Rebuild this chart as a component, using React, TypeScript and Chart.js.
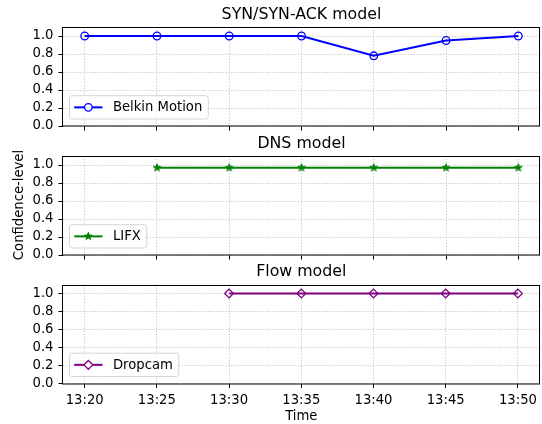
import React, { useEffect, useRef } from 'react';
import { Chart, registerables } from 'chart.js';

Chart.register(...registerables);

// ---- data ----
const minutes = [0, 5, 10, 15, 20, 25, 30];
const timeLabels = ['13:20', '13:25', '13:30', '13:35', '13:40', '13:45', '13:50'];
const yTicks = [0, 0.2, 0.4, 0.6, 0.8, 1.0];
const belkinMotion: (number | null)[] = [1.0, 1.0, 1.0, 1.0, 0.78, 0.95, 1.0];
const lifx: (number | null)[] = [null, 0.97, 0.97, 0.97, 0.97, 0.97, 0.97];
const dropcam: (number | null)[] = [null, null, 1.0, 1.0, 1.0, 1.0, 1.0];
const panelTitles = ['SYN/SYN-ACK model', 'DNS model', 'Flow model'];
const seriesNames = ['Belkin Motion', 'LIFX', 'Dropcam'];
const xTitle = 'Time';
const yTitle = 'Confidence-level';

// ---- layout / style ----
const W = 542;
const H = 424;
const FONT = 'DejaVu Sans';
const PLOT_LEFT = 63;
const PLOT_RIGHT = 540;

type Marker = 'circle' | 'star' | 'diamond';

const panels = [
  { top: 27, bottom: 126, values: belkinMotion, color: '#0000ff', marker: 'circle' as Marker, labels: false },
  { top: 156, bottom: 255, values: lifx, color: '#008000', marker: 'star' as Marker, labels: false },
  { top: 284.5, bottom: 383.5, values: dropcam, color: '#800080', marker: 'diamond' as Marker, labels: true },
];

function drawStar(ctx: CanvasRenderingContext2D, cx: number, cy: number, r: number, color: string) {
  const ri = r * 0.381966;
  ctx.save();
  ctx.beginPath();
  for (let k = 0; k < 10; k++) {
    const rr = k % 2 === 0 ? r : ri;
    const a = -Math.PI / 2 + (k * Math.PI) / 5;
    const px = cx + rr * Math.cos(a);
    const py = cy + rr * Math.sin(a);
    if (k === 0) ctx.moveTo(px, py);
    else ctx.lineTo(px, py);
  }
  ctx.closePath();
  ctx.fillStyle = color;
  ctx.fill();
  ctx.strokeStyle = color;
  ctx.lineWidth = 1;
  ctx.stroke();
  ctx.restore();
}

function drawMarker(ctx: CanvasRenderingContext2D, kind: Marker, x: number, y: number, color: string) {
  ctx.save();
  ctx.strokeStyle = color;
  ctx.lineWidth = 1.3;
  ctx.setLineDash([]);
  if (kind === 'circle') {
    ctx.beginPath();
    ctx.arc(x, y, 3.8, 0, Math.PI * 2);
    ctx.fillStyle = '#ffffff';
    ctx.fill();
    ctx.stroke();
  } else if (kind === 'diamond') {
    const r = 4.4;
    ctx.beginPath();
    ctx.moveTo(x, y - r);
    ctx.lineTo(x + r, y);
    ctx.lineTo(x, y + r);
    ctx.lineTo(x - r, y);
    ctx.closePath();
    ctx.fillStyle = '#ffffff';
    ctx.fill();
    ctx.stroke();
  } else {
    drawStar(ctx, x, y, 4, color);
  }
  ctx.restore();
}

function roundRectPath(ctx: CanvasRenderingContext2D, x: number, y: number, w: number, h: number, r: number) {
  ctx.beginPath();
  ctx.moveTo(x + r, y);
  ctx.lineTo(x + w - r, y);
  ctx.arcTo(x + w, y, x + w, y + r, r);
  ctx.lineTo(x + w, y + h - r);
  ctx.arcTo(x + w, y + h, x + w - r, y + h, r);
  ctx.lineTo(x + r, y + h);
  ctx.arcTo(x, y + h, x, y + h - r, r);
  ctx.lineTo(x, y + r);
  ctx.arcTo(x, y, x + r, y, r);
  ctx.closePath();
}

export default function App() {
  const refs = useRef<(HTMLCanvasElement | null)[]>([]);

  useEffect(() => {
    Chart.defaults.font.family = FONT;
    Chart.defaults.font.size = 13.2;
    Chart.defaults.color = '#000000';

    const starCanvas = document.createElement('canvas');
    starCanvas.width = 12;
    starCanvas.height = 12;
    const sctx = starCanvas.getContext('2d');
    if (sctx) drawStar(sctx, 6, 6, 4, panels[1].color);

    const charts: Chart[] = [];
    panels.forEach((p, i) => {
      const canvas = refs.current[i];
      if (!canvas) return;
      const xh = p.labels ? 25 : 5;
      const gridOpts = {
        color: '#b0b0b0',
        lineWidth: 0.8,
        tickColor: '#000000',
        tickLength: 4.5,
        tickWidth: 1,
        tickBorderDash: [],
        borderDash: [1.1, 1.8],
      };
      const borderOpts = { display: false, dash: [1.1, 1.8] };

      const pointStyle: any =
        p.marker === 'circle' ? 'circle' : p.marker === 'diamond' ? 'rectRot' : starCanvas;

      const deco = {
        id: 'deco' + i,
        afterDatasetsDraw(chart: any) {
          const ctx: CanvasRenderingContext2D = chart.ctx;
          const a = chart.chartArea;
          ctx.save();
          ctx.strokeStyle = '#000000';
          ctx.lineWidth = 1;
          ctx.setLineDash([]);
          ctx.strokeRect(Math.round(a.left) - 0.5, Math.round(a.top) + 0.5, Math.round(a.right - a.left) + 0, Math.round(a.bottom - a.top) - 0.5);
          ctx.restore();
        },
        afterDraw(chart: any) {
          const ctx: CanvasRenderingContext2D = chart.ctx;
          const a = chart.chartArea;
          ctx.save();
          // panel title
          ctx.fillStyle = '#000000';
          ctx.font = `15.8px "${FONT}"`;
          ctx.textAlign = 'center';
          ctx.textBaseline = 'alphabetic';
          ctx.fillText(panelTitles[i], (a.left + a.right) / 2, a.top - 8.3);

          // legend
          ctx.font = `13.2px "${FONT}"`;
          const name = seriesNames[i];
          const tw = ctx.measureText(name).width;
          const bh = 23.3;
          const bx = a.left + 6.5;
          const by = a.bottom - 7 - bh;
          const bw = tw + 49.4;
          roundRectPath(ctx, bx, by, bw, bh, 2.6);
          ctx.fillStyle = 'rgba(255,255,255,0.8)';
          ctx.fill();
          ctx.strokeStyle = 'rgba(204,204,204,0.8)';
          ctx.lineWidth = 1;
          ctx.stroke();
          const cy = by + bh / 2;
          ctx.beginPath();
          ctx.moveTo(bx + 4.7, cy);
          ctx.lineTo(bx + 33, cy);
          ctx.strokeStyle = p.color;
          ctx.lineWidth = 2;
          ctx.stroke();
          drawMarker(ctx, p.marker, bx + 18.85, cy, p.color);
          ctx.fillStyle = '#000000';
          ctx.textAlign = 'left';
          ctx.textBaseline = 'alphabetic';
          ctx.fillText(name, bx + 43.4, cy + 3.7);

          // axis titles
          if (i === 1) {
            ctx.save();
            ctx.translate(23, 205);
            ctx.rotate(-Math.PI / 2);
            ctx.textAlign = 'center';
            ctx.textBaseline = 'alphabetic';
            ctx.fillText(yTitle, 0, 0);
            ctx.restore();
          }
          if (i === 2) {
            ctx.textAlign = 'center';
            ctx.textBaseline = 'alphabetic';
            ctx.fillText(xTitle, (a.left + a.right) / 2, 420);
          }
          ctx.restore();
        },
      };

      const chart = new Chart(canvas, {
        type: 'line',
        data: {
          datasets: [
            {
              label: seriesNames[i],
              data: minutes.map((m, j) => ({ x: m, y: p.values[j] })) as any,
              borderColor: p.color,
              backgroundColor: p.color,
              borderWidth: 2,
              tension: 0,
              fill: false,
              pointStyle,
              pointRadius: p.marker === 'circle' ? 3.8 : p.marker === 'diamond' ? 4.4 : 4,
              pointBorderWidth: 1.3,
              pointBorderColor: p.color,
              pointBackgroundColor: p.marker === 'star' ? p.color : 'rgba(255,255,255,0)',
              pointHoverRadius: 0,
            },
          ],
        },
        options: {
          responsive: false,
          animation: false,
          events: [],
          layout: {
            autoPadding: false,
            padding: { left: 0, right: W - PLOT_RIGHT, top: p.top, bottom: H - p.bottom - xh },
          },
          scales: {
            x: {
              type: 'linear',
              min: -1.5,
              max: 31.5,
              afterFit: (s: any) => {
                s.height = xh;
              },
              afterBuildTicks: (s: any) => {
                s.ticks = minutes.map((v) => ({ value: v }));
              },
              ticks: {
                display: p.labels,
                padding: 5,
                maxRotation: 0,
                autoSkip: false,
                includeBounds: false,
                callback: (v: any) => {
                  const idx = minutes.indexOf(Number(v));
                  return idx >= 0 ? timeLabels[idx] : '';
                },
              },
              grid: gridOpts as any,
              border: borderOpts as any,
            },
            y: {
              type: 'linear',
              min: 0,
              max: 1.1,
              afterFit: (s: any) => {
                s.width = PLOT_LEFT;
              },
              afterBuildTicks: (s: any) => {
                s.ticks = yTicks.map((v) => ({ value: v }));
              },
              ticks: {
                padding: 5,
                includeBounds: false,
                callback: (v: any) => Number(v).toFixed(1),
              },
              grid: gridOpts as any,
              border: borderOpts as any,
            },
          },
          plugins: {
            legend: { display: false },
            title: { display: false },
            tooltip: { enabled: false },
          },
        },
        plugins: [deco],
      });
      charts.push(chart);
    });

    return () => {
      charts.forEach((c) => c.destroy());
    };
  }, []);

  return (
    <div style={{ position: 'absolute', left: 0, top: 0, width: W, height: H, background: '#ffffff' }}>
      {panels.map((_, i) => (
        <canvas
          key={i}
          ref={(el) => {
            refs.current[i] = el;
          }}
          width={W}
          height={H}
          style={{ position: 'absolute', left: 0, top: 0, width: W, height: H }}
        />
      ))}
    </div>
  );
}
